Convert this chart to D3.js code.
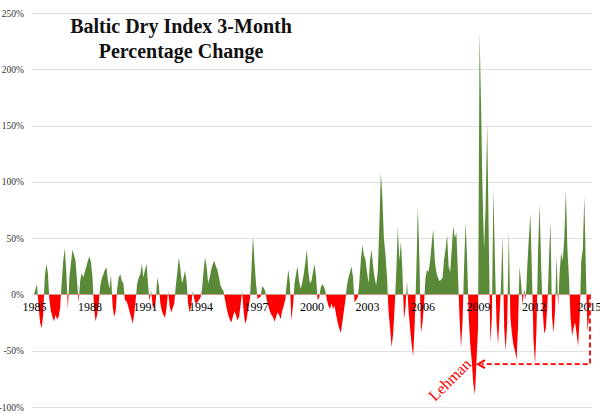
<!DOCTYPE html>
<html><head><meta charset="utf-8">
<script src="https://cdn.jsdelivr.net/npm/d3@7"></script>
<style>body{margin:0;background:#fff}</style>
</head><body><svg id="c" width="600" height="414"></svg>
<script>
// Monthly 3-month % change of the Baltic Dry Index
const bdi1985 = [0, 5, 9, -10, -25, -30, -18, 15, 27, 20, -5, -15, -20, -24, -18, -22, -20, -12, 10, 30, 41, 20, -13, 15, 28, 40, 35, 30, 12, -7, 12, 19, 15, 20, 25, 30];
const bdi1988 = [34, 28, 15, -12, -24, -18, -8, 8, 14, 18, 22, 24, 12, 5, 18, -10, -20, -15, 5, 15, 18, 12, 10, -5, -6, -10, -15, -20, -26, -18, -5, 10, 15, 18, 27, 15];
const bdi1991 = [22, 27, 10, -6, 4, -10, -13, -6, 15, 8, -8, -15, -18, -21, -12, 3, -10, -16, -12, -8, 8, 20, 33, 22, 10, 15, 21, 12, -8, -16, -10, 3, -4, -9, -7, -5];
const bdi1994 = [-3, 5, 20, 33, 25, 10, 15, 22, 27, 30, 25, 22, 15, 8, 5, 3, -5, -12, -18, -22, -25, -20, -15, -18, -23, -20, -10, 3, -15, -26, -22, -12, -5, 20, 52, 30];
const bdi1997 = [10, -4, -3, -2, 7, 6, 3, -5, -10, -15, -18, -20, -24, -20, -16, -18, -22, -15, -10, -5, 10, 22, 10, -23, -10, 10, 18, 25, 12, 5, 10, 18, 28, 40, 20, 10];
const bdi2000 = [12, 20, 27, 15, -5, -3, 6, 9, 7, 3, -5, -10, -13, -8, -13, -10, -18, -25, -30, -34, -25, -15, -5, 8, 15, 20, 25, 15, -7, -5, -3, 10, 30, 44, 35, 31];
const bdi2003 = [20, 10, 30, 40, 25, 15, 8, 20, 60, 108, 85, 50, 35, 15, -15, -30, -47, -35, -10, 20, 60, 30, 47, 20, -22, -10, 12, -15, -30, -45, -55, -25, 20, 78, 30, -34];
const bdi2006 = [-25, -8, 15, 22, 20, 30, 45, 58, 30, 20, 15, 12, 13, 15, 30, 40, 53, 25, 20, 40, 61, 50, 55, 20, -20, -47, -25, 25, 64, 30, -20, -45, -60, -80, -89, -60];
const bdi2009 = [-30, 233, 170, 90, 40, 80, 152, 50, -43, -20, 93, 30, -25, -44, -20, 10, 52, -30, -50, -25, 56, -20, -35, -45, -50, -58, -30, 25, 10, -9, 5, -5, 25, 50, 72, 20];
const bdi2012 = [-40, -62, -30, 40, 80, 25, -15, -35, -30, -10, 30, 65, -20, -34, -15, 34, -11, 20, 37, 30, 50, 93, 40, 15, -20, -37, -30, -25, -35, -46, -20, 30, 40, 87, 20, -33, -20];

const yearLabels = ["1985","1988","1991","1994","1997","2000","2003","2006","2009","2012","2015"];
const yTicks = [-100, -50, 0, 50, 100, 150, 200, 250];
const titleLines = ["Baltic Dry Index 3-Month", "Percentage Change"];
const annotation = "Lehman";
const lehmanLevel = -62;

const series = [].concat(bdi1985, bdi1988, bdi1991, bdi1994, bdi1997, bdi2000, bdi2003, bdi2006, bdi2009, bdi2012);
const data = series.map((v, i) => ({ date: new Date(1985, i, 1), v }));

const svg = d3.select("#c");
const x = d3.scaleTime().domain([new Date(1985, 0, 1), new Date(2015, 0, 1)]).range([34, 589]);
const y = d3.scaleLinear().domain([-100, 250]).range([407, 13]);
const serif = "'Liberation Serif','Times New Roman',serif";

// gridlines
svg.append("g").selectAll("line").data(yTicks).join("line")
  .attr("x1", 32).attr("x2", 592)
  .attr("y1", d => Math.round(y(d)) + 0.5).attr("y2", d => Math.round(y(d)) + 0.5)
  .attr("stroke", "#e0e0e0").attr("stroke-width", 1);

// y axis labels
const yAxis = svg.append("g").attr("transform", "translate(26,0)")
  .call(d3.axisLeft(y).tickValues(yTicks).tickSize(0).tickPadding(2).tickFormat(d => d + "%"));
yAxis.select(".domain").remove();
yAxis.selectAll("text").attr("font-family", serif).attr("font-size", 9.5).attr("fill", "#333");

// areas
const defs = svg.append("defs");
defs.append("clipPath").attr("id", "pos").append("rect")
  .attr("x", 0).attr("y", 0).attr("width", 600).attr("height", y(0));
defs.append("clipPath").attr("id", "neg").append("rect")
  .attr("x", 0).attr("y", y(0)).attr("width", 600).attr("height", 414 - y(0));
const area = d3.area().x(d => x(d.date)).y0(y(0)).y1(d => y(d.v));
svg.append("path").datum(data).attr("d", area).attr("fill", "#5a8a37").attr("clip-path", "url(#pos)");
svg.append("path").datum(data).attr("d", area).attr("fill", "#ff0000").attr("clip-path", "url(#neg)");

// x axis labels
const xAxis = svg.append("g").attr("transform", `translate(0,${y(0)})`)
  .call(d3.axisBottom(x).tickValues(yearLabels.map(s => new Date(+s, 0, 1))).tickSize(0).tickFormat((d, i) => yearLabels[i]));
xAxis.select(".domain").remove();
xAxis.selectAll("text").attr("y", 16.5).attr("dy", 0)
  .attr("font-family", serif).attr("font-size", 12).attr("fill", "#000");

// title
svg.append("g").selectAll("text").data(titleLines).join("text")
  .attr("x", 181).attr("y", (d, i) => 33 + i * 25)
  .attr("text-anchor", "middle")
  .attr("font-family", serif).attr("font-weight", "bold").attr("font-size", 20).attr("fill", "#111")
  .text(d => d);

// Lehman annotation
const ax0 = x(new Date(2015, 0, 20)), ax1 = x(new Date(2009, 0, 1)), ay = y(lehmanLevel);
svg.append("path")
  .attr("d", `M${ax0},${y(0)}V${ay}H${ax1 + 4}`)
  .attr("fill", "none").attr("stroke", "#ff0000").attr("stroke-width", 1.8).attr("stroke-dasharray", "5,3");
svg.append("path")
  .attr("d", `M${ax1 + 7},${ay - 4}L${ax1},${ay}L${ax1 + 7},${ay + 4}`)
  .attr("fill", "none").attr("stroke", "#ff0000").attr("stroke-width", 2);
svg.append("text")
  .attr("transform", "translate(451,381) rotate(-45)")
  .attr("text-anchor", "middle").attr("dominant-baseline", "middle")
  .attr("font-family", serif).attr("font-size", 16).attr("fill", "#ff0000")
  .text(annotation);
</script>
</body></html>
